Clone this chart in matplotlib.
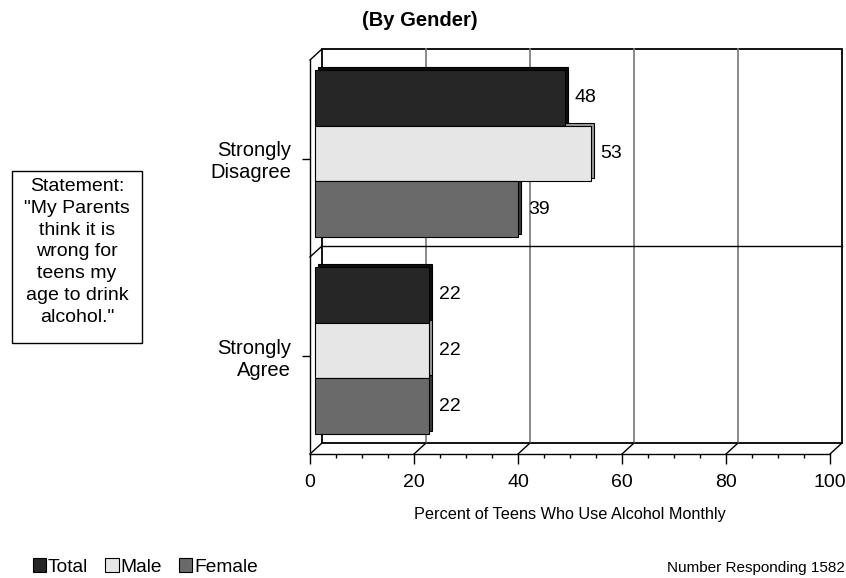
import numpy as np
import matplotlib
matplotlib.use('Agg')
import matplotlib.pyplot as plt
from matplotlib.transforms import offset_copy
from matplotlib.patches import Rectangle, Patch
from matplotlib.ticker import MultipleLocator

plt.rcParams['font.family'] = ['Liberation Sans', 'DejaVu Sans']

# data
categories = ['Strongly\nAgree', 'Strongly\nDisagree']
series = ['Total', 'Male', 'Female']
total = [22, 48]
male = [22, 53]
female = [22, 39]
xticks = [0, 20, 40, 60, 80, 100]

front_cols = ['#262626', '#e6e6e6', '#6a6a6a']
side_cols = ['#0d0d0d', '#9a9a9a', '#3a3a3a']

W, H = 846, 578
fig = plt.figure(figsize=(W / 100, H / 100), dpi=100)
ax = fig.add_axes([310 / W, 1 - 454 / H, 520 / W, 394 / H])
ax.set_xlim(0, 100)
ax.set_ylim(-0.5, 1.5)

# pseudo 3d depth of the box (pixels), converted to data units
DX, DY = 12, 11
ddx = DX * 100 / 520
ddy = DY * 2 / 394

# back wall
tback = offset_copy(ax.transData, fig=fig, x=DX, y=DY, units='dots')
ax.add_patch(Rectangle((0, -0.5), 100, 2, fill=False, ec='black', lw=1.3,
                       transform=tback, clip_on=False, zorder=1.5))
for x in xticks[1:-1]:
    ax.plot([x, x], [-0.5, 1.5], color='#808080', lw=1.3, transform=tback,
            clip_on=False, zorder=1.5)
ax.plot([0, 100], [0.5, 0.5], color='black', lw=1, transform=tback,
        clip_on=False, zorder=1.5)

# floor and left wall diagonals
for x in xticks:
    ax.plot([x, x + ddx], [-0.5, -0.5 + ddy], color='black', lw=1, clip_on=False)
for yy in [0.5, 1.5]:
    ax.plot([0, ddx], [yy, yy + ddy], color='black', lw=1, clip_on=False)

# bars
h = 0.283
y = np.arange(len(categories))
offs = [h, 0, -h]
vals = [total, male, female]
tbar = offset_copy(ax.transData, fig=fig, x=5, y=5, units='dots')
tside = offset_copy(ax.transData, fig=fig, x=8, y=8, units='dots')
tlab = offset_copy(ax.transData, fig=fig, x=15, y=5, units='dots')
for i in reversed(range(3)):
    ax.barh(y + offs[i], vals[i], height=h, color=side_cols[i], ec='black',
            lw=0.8, transform=tside, clip_on=False, zorder=3)
for i in range(3):
    ax.barh(y + offs[i], vals[i], height=h, color=front_cols[i], ec='black',
            lw=0.8, transform=tbar, clip_on=False, zorder=4)
    for yy, v in zip(y + offs[i], vals[i]):
        ax.text(v, yy, str(v), transform=tlab, ha='left', va='center',
                fontsize=14, zorder=5)

# axes
for s in ['top', 'right']:
    ax.spines[s].set_visible(False)
for s in ['left', 'bottom']:
    ax.spines[s].set_linewidth(1)
ax.set_xticks(xticks)
ax.xaxis.set_minor_locator(MultipleLocator(5))
ax.tick_params(axis='x', which='major', length=7.2, width=1, labelsize=14, pad=7)
ax.tick_params(axis='x', which='minor', length=3, width=1)
ax.set_yticks(y, categories)
ax.tick_params(axis='y', length=5.8, width=1, labelsize=14.5, pad=8)
ax.set_xlabel('Percent of Teens Who Use Alcohol Monthly', fontsize=11.7, labelpad=12)

fig.text(420 / W, 1 - 20 / H, '(By Gender)', ha='center', va='center',
         fontsize=14.5, fontweight='bold')

# statement box
fig.patches.append(Rectangle((12 / W, 1 - 343 / H), 130 / W, 172 / H,
                             transform=fig.transFigure, fill=False, ec='black', lw=1))
fig.text(77 / W, 1 - 252 / H,
         'Statement:\n"My Parents\nthink it is\nwrong for\nteens my\nage to drink\nalcohol."',
         ha='center', va='center', fontsize=14, linespacing=1.38)

handles = [Patch(facecolor=c, edgecolor='black', lw=0.8) for c in front_cols]
fig.legend(handles, series, loc='center left', bbox_to_anchor=(25 / W, 1 - 567 / H),
           frameon=False, fontsize=13.8, ncol=3, handlelength=0.7, handleheight=0.7,
           handletextpad=0.1, columnspacing=0.88, borderaxespad=0)

fig.text(845 / W, 1 - 568 / H, 'Number Responding 1582', ha='right', va='center',
         fontsize=11)

fig.savefig('out.png', dpi=100)
